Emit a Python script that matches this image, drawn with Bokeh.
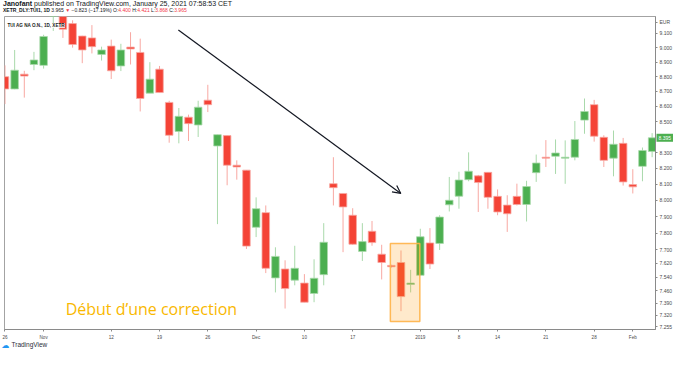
import math
from bokeh.plotting import figure
from bokeh.layouts import column
from bokeh.models import (Range1d, FixedTicker, PrintfTickFormatter, Label, Div,
                          BoxAnnotation, Arrow, OpenHead, ColumnDataSource)
from bokeh.embed import file_html
from bokeh.resources import INLINE

# XETRA TUI AG daily candles, trading-day index 0 = 26 Oct 2018 ... 67 = 5 Feb 2019
opens = [8.800, 8.717, 8.817, 8.883, 8.877, 9.230, 9.260, 9.168, 9.080, 9.067,
         8.952, 9.010, 8.873, 9.003, 8.966, 8.689, 8.851, 8.627, 8.436, 8.529,
         8.478, 8.642, 8.342, 8.409, 8.219, 8.188, 7.835, 7.924, 7.535, 7.587,
         7.522, 7.505, 7.445, 7.554, 8.103, 8.042, 7.908, 7.690, 7.811, 7.674,
         7.608, 7.625, 7.497, 7.550, 7.741, 7.738, 7.972, 8.025, 8.128, 8.152,
         8.174, 8.024, 7.970, 8.024, 7.974, 8.172, 8.270, 8.276, 8.264, 8.270,
         8.510, 8.612, 8.398, 8.264, 8.359, 8.097, 8.212, 8.307]
highs = [8.877, 8.983, 8.840, 8.970, 9.089, 9.330, 9.290, 9.191, 9.082, 9.157,
         9.006, 9.055, 9.026, 9.107, 9.062, 8.899, 8.873, 8.638, 8.590, 8.546,
         8.638, 8.745, 8.415, 8.409, 8.250, 8.188, 8.018, 7.968, 7.715, 7.638,
         7.724, 7.557, 7.644, 7.860, 8.270, 8.042, 7.951, 7.860, 7.873, 7.730,
         7.612, 7.696, 7.582, 7.826, 7.830, 7.908, 8.145, 8.178, 8.301, 8.158,
         8.174, 8.067, 8.031, 8.103, 8.121, 8.287, 8.380, 8.384, 8.378, 8.504,
         8.653, 8.644, 8.411, 8.442, 8.394, 8.194, 8.332, 8.425]
lows = [8.616, 8.715, 8.659, 8.844, 8.855, 9.116, 9.067, 8.999, 8.892, 8.959,
        8.910, 8.784, 8.838, 8.883, 8.567, 8.689, 8.693, 8.363, 8.359, 8.374,
        8.400, 8.563, 7.854, 8.093, 8.128, 7.705, 7.776, 7.563, 7.451, 7.359,
        7.492, 7.395, 7.395, 7.492, 7.968, 7.686, 7.730, 7.634, 7.724, 7.526,
        7.595, 7.344, 7.451, 7.550, 7.587, 7.699, 7.931, 7.948, 8.118, 7.928,
        7.948, 7.908, 7.807, 7.968, 7.870, 8.114, 8.208, 8.164, 8.102, 8.250,
        8.421, 8.370, 8.208, 8.149, 8.091, 8.042, 8.118, 8.270]
closes = [8.717, 8.844, 8.804, 8.914, 9.077, 9.300, 9.128, 9.021, 8.983, 9.006,
          8.983, 8.840, 8.983, 8.990, 8.653, 8.783, 8.693, 8.411, 8.535, 8.487,
          8.595, 8.612, 8.415, 8.219, 8.208, 7.722, 7.948, 7.591, 7.661, 7.473,
          7.591, 7.395, 7.533, 7.745, 8.078, 7.959, 7.733, 7.749, 7.743, 7.625,
          7.600, 7.427, 7.505, 7.778, 7.616, 7.897, 8.000, 8.126, 8.181, 8.110,
          8.018, 7.928, 7.917, 7.974, 8.085, 8.233, 8.264, 8.297, 8.270, 8.384,
          8.567, 8.405, 8.250, 8.353, 8.114, 8.083, 8.313, 8.395]

x_tick_pos = [0, 4, 11, 16, 21, 26, 31, 36, 43, 47, 51, 56, 61, 65]
x_tick_labels = ["26", "Nov", "12", "19", "26", "Dec", "10", "17", "2019",
                 "8", "14", "21", "28", "Feb"]
y_ticks = [9.1, 9.0, 8.9, 8.8, 8.7, 8.6, 8.5, 8.3, 8.2, 8.1, 8.0, 7.9, 7.8,
           7.7, 7.62, 7.54, 7.46, 7.39, 7.32, 7.255]
currency_tick = 9.177
currency = "EUR"
last_price = 8.395

# annotation anchors (index / price)
box_x = [39.9, 42.95]
box_y = [7.286, 7.738]
arrow_from = (17.95, 9.123)
arrow_to = (40.98, 8.042)
note_pos = (6.28, 7.355)
note_text = "Début d’une correction"

header_1 = ("Janofant", "published on TradingView.com, January 25, 2021 07:58:53 CET")
header_2 = [("XETR_DLY:TUI1, 1D", "b"), ("3.965", "k"), ("▼", "r"),
            ("−0.823 (−17.19%)", "k"), ("O:", "k"), ("4.400", "r"), ("H:", "k"),
            ("4.421", "r"), ("L:", "k"), ("3.868", "r"), ("C:", "k"), ("3.965", "r")]

X0, X1 = -0.05, 67.35
Y0, Y1 = 7.241, 9.218

UP, DOWN = "#4caf50", "#f44336"
UP_W, DOWN_W = "#a9d9ab", "#f8a8a2"
RED = "#f23645"
INK = "#131722"

idx = list(range(len(opens)))
is_up = [c >= o for o, c in zip(opens, closes)]
src = ColumnDataSource(dict(
    x=idx, o=opens, h=highs, l=lows, c=closes,
    top=[max(o, c) for o, c in zip(opens, closes)],
    bot=[min(o, c) for o, c in zip(opens, closes)],
    body=[UP if u else DOWN for u in is_up],
    wick=[UP_W if u else DOWN_W for u in is_up],
))

p = figure(width=675, height=351, output_backend="svg", toolbar_location=None,
           title=None, y_axis_type="log", y_axis_location="right",
           x_range=Range1d(X0, X1), y_range=Range1d(Y0, Y1),
           min_border_left=4, min_border_right=0, min_border_top=1,
           min_border_bottom=21)
p.background_fill_color = "white"
p.border_fill_color = "white"
p.border_fill_alpha = 0.0
p.outline_line_color = "#a3a3a3"
p.outline_line_width = 1
p.xgrid.visible = False
p.ygrid.visible = False

p.segment("x", "l", "x", "h", source=src, color="wick", line_width=1)
p.vbar(x="x", width=0.78, top="top", bottom="bot", source=src,
       fill_color="body", line_color="wick", line_width=0.8)

# y axis
ya = p.yaxis[0]
ya.ticker = FixedTicker(ticks=y_ticks + [currency_tick])
ya.formatter = PrintfTickFormatter(format="%.3f")
ya.major_label_overrides = {currency_tick: currency}
ya.minor_tick_line_color = None
ya.major_tick_in = 0
ya.major_tick_out = 2
ya.major_tick_line_color = "#8a8a8a"
ya.axis_line_color = "#8a8a8a"
ya.major_label_text_font = "Liberation Sans"
ya.major_label_text_font_size = "5px"
ya.major_label_text_color = "#4a4a4a"
ya.major_label_standoff = 2

xa = p.xaxis[0]
xa.ticker = FixedTicker(ticks=x_tick_pos)
xa.major_label_overrides = {k: v for k, v in zip(x_tick_pos, x_tick_labels)}
xa.minor_tick_line_color = None
xa.major_tick_in = 0
xa.major_tick_out = 2
xa.major_tick_line_color = "#8a8a8a"
xa.axis_line_color = "#8a8a8a"
xa.major_label_text_font = "Liberation Sans"
xa.major_label_text_font_size = "4.6px"
xa.major_label_text_color = "#4a4a4a"
xa.major_label_standoff = 3

# highlighted region
p.add_layout(BoxAnnotation(left=box_x[0], right=box_x[1], bottom=box_y[0], top=box_y[1],
                           fill_color="#ff9800", fill_alpha=0.2,
                           line_color="#ffb347", line_width=1.5, line_alpha=0.9))

# trend arrow
p.add_layout(Arrow(end=OpenHead(size=8, line_width=1.2, line_color=INK),
                   x_start=arrow_from[0], y_start=arrow_from[1],
                   x_end=arrow_to[0], y_end=arrow_to[1],
                   line_color=INK, line_width=1.2))

p.add_layout(Label(x=note_pos[0], y=note_pos[1], text=note_text,
                   text_font="Open Sans", text_font_size="16px",
                   text_color="#f9b800", text_baseline="alphabetic"))

# pane label
p.add_layout(Label(x=X0, y=Y1, x_offset=3, y_offset=-9, text="TUI AG NA O.N., 1D, XETR",
                   text_font="Liberation Sans", text_font_size="4.6px", text_font_style="bold",
                   text_color="#222222", background_fill_color="white",
                   background_fill_alpha=0.8, text_baseline="alphabetic"))

# last price tag and logo icon (kept in a side panel so they are not clipped to the frame)
p.add_layout(Label(x=X1, y=last_price, x_offset=1, text=f"{last_price:.3f}",
                   text_font="Liberation Sans", text_font_size="5px",
                   text_color="white", background_fill_color=UP,
                   text_baseline="middle", padding=2), "above")
p.add_layout(Label(x=X0, y=Y0, x_offset=-3, y_offset=-16, text="☁",
                   text_font="DejaVu Sans", text_font_size="8px", text_color="#2196f3",
                   text_baseline="alphabetic"), "above")

# footer text
p.add_layout(Label(x=X0, y=Y0, x_offset=7, y_offset=-15, text="TradingView",
                   text_font="Liberation Sans", text_font_size="6.5px", text_color="#2a2e39",
                   text_baseline="alphabetic"), "below")

# header (HTML, above the chart)
def span(t, kind):
    if kind == "b":
        return f"<b>{t}</b>"
    if kind == "r":
        return f"<span style='color:{RED}'>{t}</span>"
    return t

line1 = f"<b>{header_1[0]}</b> {header_1[1]}"
line2 = " ".join(span(t, k) for t, k in header_2)
for k in ("O:", "H:", "L:", "C:"):
    line2 = line2.replace(k + " ", k)
html = (f"<div style='margin:0;padding:0;font-family:\"Liberation Sans\";color:{INK};"
        f"white-space:nowrap'>"
        f"<div style='font-size:7px;line-height:7px;height:7px;padding-left:3px'>{line1}</div>"
        f"<div style='font-size:5px;line-height:7px;height:7px;padding-left:3px'>{line2}</div></div>")
header = Div(text=html, width=675, height=15, margin=(0, 0, -16, 0))

layout = column(header, p, spacing=0)
open("out.html", "w").write(file_html(layout, INLINE))
